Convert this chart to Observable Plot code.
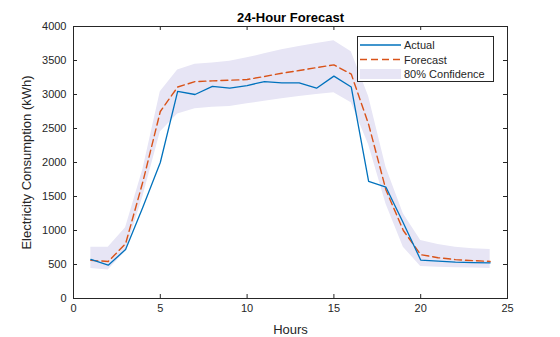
<!DOCTYPE html>
<html><head><meta charset="utf-8">
<script src="https://cdn.jsdelivr.net/npm/d3@7"></script>
<script src="https://cdn.jsdelivr.net/npm/@observablehq/plot@0.6"></script>
<style>
body{margin:0;background:#fff;font-family:"Liberation Sans",Arial,sans-serif;}
#wrap{position:relative;width:560px;height:337px;}
#legend{position:absolute;left:357px;top:36px;width:137px;height:46px;border:1px solid #262626;background:#fff;box-sizing:border-box;font-size:11px;color:#262626;}
</style></head>
<body><div id="wrap"><div id="chart"></div>
<div id="legend"></div></div>
<script>
const hours = [1,2,3,4,5,6,7,8,9,10,11,12,13,14,15,16,17,18,19,20,21,22,23,24];
const actual = [575,490,720,1345,2000,3045,3000,3120,3093,3132,3190,3170,3170,3093,3270,3110,1722,1637,1110,565,550,534,528,525];
const forecast = [560,545,805,1720,2750,3110,3190,3200,3210,3220,3265,3313,3353,3395,3436,3300,2560,1595,1000,645,600,572,557,545];
const upper = [755,755,1040,1900,3040,3360,3445,3465,3490,3539,3598,3657,3706,3750,3790,3630,2970,1930,1245,853,794,755,732,720];
const lower = [440,420,690,1500,2450,2715,2790,2813,2825,2863,2902,2936,2970,3000,3025,2880,2260,1390,755,470,461,451,447,440];
const xTicks = [0,5,10,15,20,25];
const yTicks = [0,500,1000,1500,2000,2500,3000,3500,4000];
const seriesNames = ["Actual","Forecast","80% Confidence"];
const title = "24-Hour Forecast";

const rows = hours.map((h,i)=>({h, a:actual[i], f:forecast[i], lo:lower[i], hi:upper[i]}));
const ink = "#262626";
const W=560,H=337,mL=73,mR=53,mT=26,mB=39;
const pw=W-mL-mR, ph=H-mT-mB;

const chart = Plot.plot({
  width: W, height: H,
  marginLeft: mL, marginRight: mR, marginTop: mT, marginBottom: mB,
  style: {fontFamily: '"Liberation Sans", Arial, sans-serif', fontSize: "11px", color: ink, background: "#fff"},
  x: {domain: [0,25]},
  y: {domain: [0,4000]},
  marks: [
    Plot.areaY(rows, {x:"h", y1:"lo", y2:"hi", fill:"#e7e5f5", fillOpacity:1}),
    Plot.lineY(rows, {x:"h", y:"f", stroke:"#D95319", strokeWidth:1.4, strokeDasharray:"7,4"}),
    Plot.lineY(rows, {x:"h", y:"a", stroke:"#0072BD", strokeWidth:1.3}),
    Plot.frame({stroke: ink, strokeWidth: 1}),
    Plot.tickX(xTicks, {x: d=>d, stroke: ink, insetTop: ph-4}),
    Plot.tickX(xTicks, {x: d=>d, stroke: ink, insetBottom: ph-4}),
    Plot.tickY(yTicks, {y: d=>d, stroke: ink, insetRight: pw-4}),
    Plot.tickY(yTicks, {y: d=>d, stroke: ink, insetLeft: pw-4}),
    Plot.axisX(xTicks, {tickSize: 0, tickPadding: 6, fontSize: 11, fill: ink, tickFormat: d3.format("d"),
      label: "Hours", labelAnchor: "center", labelArrow: "none", labelOffset: 35}),
    Plot.axisY(yTicks, {tickSize: 0, tickPadding: 7, fontSize: 11, fill: ink, tickFormat: d3.format("d"),
      label: "Electricity Consumption (kWh)", labelAnchor: "center", labelArrow: "none", labelOffset: 52}),
    Plot.text([title], {frameAnchor: "top", dy: -14, fontWeight: "bold", fontSize: 13, fill: "#000"})
  ]
});
chart.querySelectorAll('g[aria-label="x-axis label"] text, g[aria-label="y-axis label"] text').forEach(t=>{t.setAttribute("font-size","13");});
document.getElementById("chart").appendChild(chart);

// legend
const lg = d3.select("#legend").append("svg").attr("width",135).attr("height",44);
const sw = [
  {name: seriesNames[0], type:"line", color:"#0072BD", dash:null},
  {name: seriesNames[1], type:"line", color:"#D95319", dash:"7,4"},
  {name: seriesNames[2], type:"patch", color:"#e7e5f5"}
];
sw.forEach((s,i)=>{
  const cy = 8 + i*14.5;
  if (s.type==="line") {
    lg.append("line").attr("x1",2).attr("x2",43).attr("y1",cy).attr("y2",cy)
      .attr("stroke",s.color).attr("stroke-width",1.3).attr("stroke-dasharray",s.dash);
  } else {
    lg.append("rect").attr("x",2).attr("y",cy-5).attr("width",41).attr("height",10).attr("fill",s.color);
  }
  lg.append("text").attr("x",46).attr("y",cy+4).attr("font-size",11).attr("fill",ink)
    .attr("font-family",'"Liberation Sans", Arial, sans-serif').text(s.name);
});
</script></body></html>
